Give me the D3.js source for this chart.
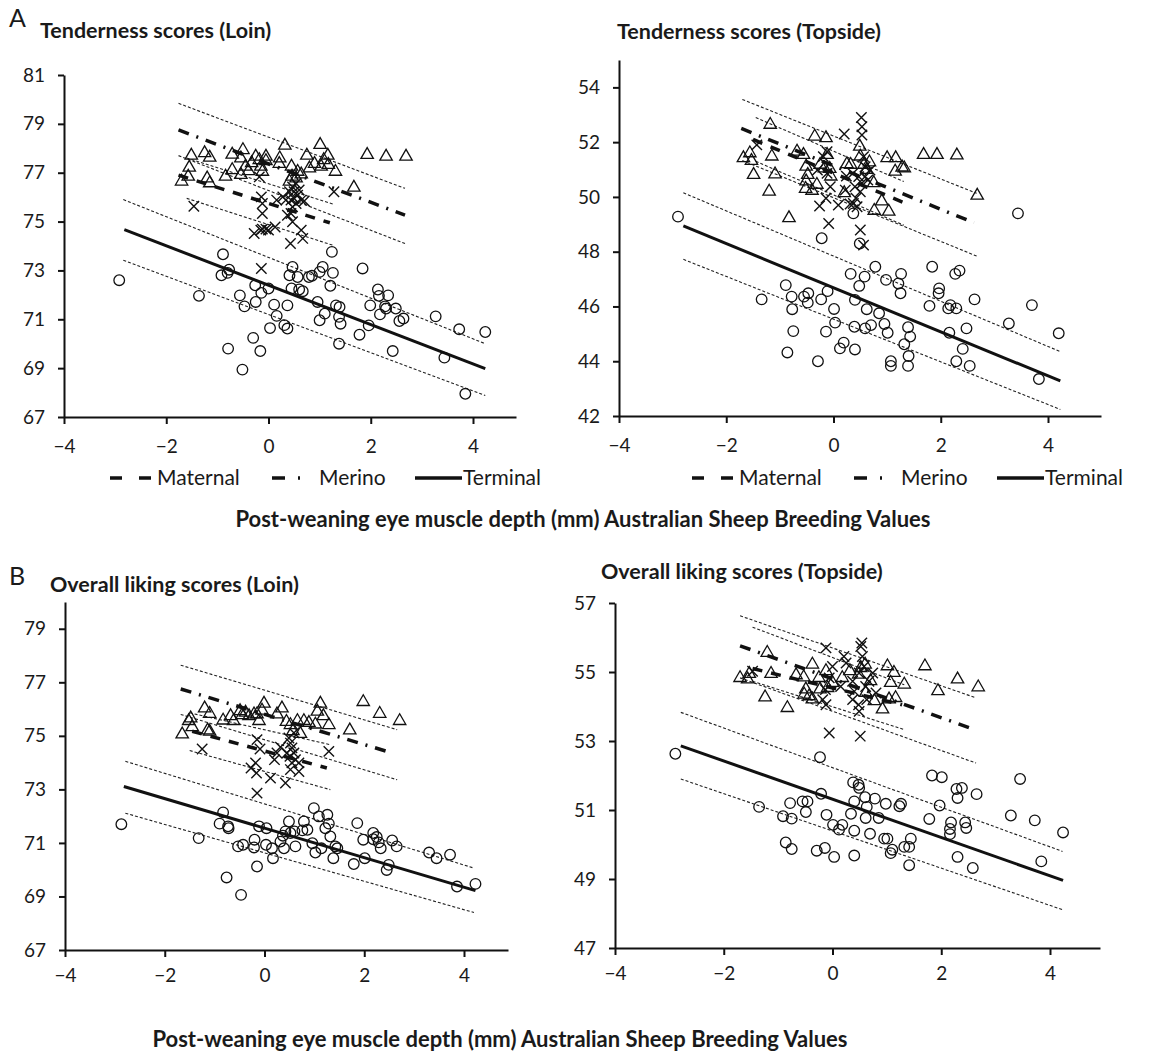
<!DOCTYPE html>
<html>
<head>
<meta charset="utf-8">
<script src="https://cdn.jsdelivr.net/npm/d3@7"></script>
<style>
body { margin: 0; background: #fff; }
text { font-family: Lato, "Open Sans", sans-serif; fill: #1a1a1a; }
</style>
</head>
<body>
<svg id="chart" width="1162" height="1057"></svg>
<script>
// ---- data: [breeding value, score] ----
var seriesNames = ["Maternal", "Merino", "Terminal"];
var xTicks = [-4, -2, 0, 2, 4];

// A: tenderness, loin
var tendLoinTerminal = [[-2.92,72.6],[-1.36,71.96],[-0.89,73.66],[-0.92,72.8],[-0.77,73.03],[-0.8,72.9],[-0.79,69.8],[-0.56,71.98],[-0.47,71.53],[-0.51,68.94],[-0.3,70.24],[-0.26,72.39],[-0.25,71.71],[-0.16,69.7],[-0.14,72.08],[0,72.26],[0.03,70.64],[0.11,71.6],[0.16,71.14],[0.31,70.76],[0.37,70.62],[0.37,71.57],[0.41,72.8],[0.47,73.14],[0.45,72.26],[0.57,72.73],[0.6,72.22],[0.67,72.15],[0.79,72.73],[0.85,72.78],[0.96,71.71],[1.0,72.94],[1.06,73.14],[1.0,70.96],[1.1,71.23],[1.21,72.37],[1.26,72.9],[1.24,73.76],[1.32,71.57],[1.38,71.1],[1.39,71.5],[1.41,70.82],[1.38,70.0],[1.78,70.37],[1.84,73.08],[1.96,70.75],[1.99,71.57],[2.14,72.22],[2.16,71.96],[2.18,71.2],[2.28,71.53],[2.34,71.98],[2.3,71.44],[2.43,69.7],[2.49,71.44],[2.56,70.93],[2.64,71.03],[3.27,71.12],[3.44,69.43],[3.73,70.59],[3.85,67.95],[4.24,70.48]];
var tendLoinMerino = [[-1.7,76.7],[-1.57,76.9],[-1.55,77.27],[-1.51,77.76],[-1.25,77.86],[-1.2,76.83],[-1.15,77.68],[-1.15,76.63],[-0.84,76.9],[-0.71,77.8],[-0.71,77.17],[-0.54,76.97],[-0.54,77.65],[-0.5,77.99],[-0.45,77.31],[-0.39,77.13],[-0.33,77.45],[-0.25,77.72],[-0.18,77.58],[-0.15,77.31],[-0.12,77.1],[-0.05,77.72],[-0.05,77.54],[0.21,77.42],[0.22,77.65],[0.32,78.17],[0.41,76.7],[0.45,77.31],[0.46,76.9],[0.54,76.83],[0.57,77.1],[0.64,76.99],[0.75,77.76],[0.8,77.24],[0.9,77.42],[1.01,78.2],[1.03,77.31],[1.08,77.58],[1.16,77.76],[1.17,77.38],[1.31,77.1],[1.67,76.45],[1.93,77.79],[2.3,77.72],[2.69,77.72]];
var tendLoinMaternal = [[-1.46,75.63],[-0.28,74.51],[-0.15,74.65],[-0.12,74.69],[-0.05,74.69],[0,74.65],[0.13,74.78],[-0.12,75.33],[-0.12,75.74],[-0.14,76.01],[-0.14,73.08],[-0.18,76.83],[0.16,75.88],[0.28,76.01],[0.34,75.88],[0.41,76.22],[0.44,75.88],[0.47,76.42],[0.47,75.6],[0.5,76.22],[0.5,75.95],[0.54,75.74],[0.57,76.08],[0.6,76.29],[0.54,76.56],[0.64,75.88],[0.47,74.99],[0.44,75.33],[0.43,74.1],[0.64,74.65],[0.67,74.31],[0.7,75.84],[1.28,76.22],[0.37,75.26]];
// fitted line and its confidence limits, at the two ends
var tendLoinFits = [
    {series: "Terminal", x: [-2.82, 4.24], fit: [74.67, 68.98], ciX: [-2.84, 4.24], lo: [73.42, 67.88], hi: [75.9, 70.0]},
    {series: "Merino", x: [-1.76, 2.67], fit: [78.75, 75.26], ciX: [-1.76, 2.67], lo: [77.7, 74.1], hi: [79.84, 76.36]},
    {series: "Maternal", x: [-1.76, 1.2], fit: [76.9, 74.95], ciX: [-1.6, 1.26], lo: [75.95, 74.03], hi: [77.6, 75.72]}
];

// A: tenderness, topside
var tendTopTerminal = [[-2.9,49.28],[-1.34,46.26],[-0.89,46.78],[-0.78,46.36],[-0.77,45.9],[-0.75,45.1],[-0.86,44.32],[-0.55,46.36],[-0.47,46.48],[-0.48,46.14],[-0.29,44.0],[-0.22,48.49],[-0.23,46.26],[-0.11,46.56],[-0.14,45.08],[0.01,45.91],[0.03,45.41],[0.19,44.68],[0.12,44.47],[0.32,47.19],[0.39,45.26],[0.4,46.24],[0.4,44.43],[0.48,46.75],[0.49,48.3],[0.58,47.09],[0.59,45.2],[0.62,45.9],[0.7,45.32],[0.78,47.45],[0.85,45.75],[0.95,45.36],[0.98,46.97],[1.01,45.04],[1.07,44.0],[1.07,43.83],[1.21,46.84],[1.26,47.19],[1.25,46.48],[1.32,44.62],[1.39,45.24],[1.4,44.19],[1.39,43.83],[1.43,44.9],[1.79,46.02],[1.84,47.45],[1.97,46.66],[1.96,46.48],[2.14,45.93],[2.16,45.04],[2.18,46.05],[2.29,45.93],[2.27,47.19],[2.35,47.31],[2.29,44.0],[2.41,44.45],[2.48,45.2],[2.54,43.83],[2.63,46.26],[3.27,45.38],[3.44,49.4],[3.7,46.05],[3.83,43.35],[4.2,45.02],[0.37,49.4]];
var tendTopMerino = [[-1.68,51.47],[-1.56,51.65],[-1.53,51.37],[-1.49,50.86],[-1.18,52.69],[-1.15,51.53],[-1.09,50.88],[-1.2,50.25],[-0.83,49.28],[-0.68,51.71],[-0.56,51.59],[-0.51,51.16],[-0.48,50.86],[-0.51,50.62],[-0.52,50.35],[-0.4,50.28],[-0.35,52.26],[-0.31,50.5],[-0.25,51.23],[-0.17,51.1],[-0.14,52.2],[-0.12,51.59],[-0.07,51.08],[-0.05,50.8],[0.2,50.19],[0.25,51.25],[0.32,51.23],[0.49,51.89],[0.5,51.53],[0.57,51.23],[0.62,51.04],[0.67,51.32],[0.75,50.56],[0.76,49.55],[0.9,49.89],[1.0,51.47],[1.03,49.52],[1.16,51.47],[1.15,50.98],[1.28,51.13],[1.32,51.1],[1.68,51.59],[1.93,51.59],[2.3,51.57],[2.68,50.1]];
var tendTopMaternal = [[-1.43,51.9],[-0.26,49.67],[-0.12,50.86],[-0.12,51.65],[-0.09,49.03],[-0.14,49.95],[0.2,52.3],[0.24,50.76],[0.22,50.25],[0.09,49.7],[0.31,49.74],[0.37,49.76],[0.42,49.95],[0.44,49.64],[0.52,52.9],[0.53,52.56],[0.53,52.26],[0.5,48.79],[0.56,48.24],[0.56,51.47],[0.59,51.1],[0.59,50.74],[0.64,50.62],[0.53,50.5],[0.5,50.19],[0.4,50.37],[0.36,50.86],[0.47,50.74],[0.68,50.98],[-0.06,50.37],[-0.3,50.98],[-0.19,51.47]];
var tendTopFits = [
    {series: "Terminal", x: [-2.8, 4.23], fit: [48.94, 43.28], ciX: [-2.8, 4.23], lo: [47.72, 42.24], hi: [50.15, 44.35]},
    {series: "Merino", x: [-1.72, 2.62], fit: [52.5, 49.06], ciX: [-1.7, 2.67], lo: [51.33, 47.84], hi: [53.56, 50.13]},
    {series: "Maternal", x: [-1.5, 1.3], fit: [52.1, 49.8], ciX: [-1.45, 1.31], lo: [51.3, 48.97], hi: [52.9, 50.56]}
];

// B: overall liking, loin
var likeLoinTerminal = [[-2.87,71.7],[-1.32,71.18],[-0.83,72.14],[-0.9,71.72],[-0.73,71.62],[-0.72,71.55],[-0.76,69.71],[-0.53,70.87],[-0.47,69.06],[-0.43,70.93],[-0.2,71.12],[-0.21,70.83],[-0.15,70.12],[-0.11,71.62],[0.04,71.55],[0.03,70.93],[0.15,70.8],[0.17,70.43],[0.32,71.05],[0.37,71.27],[0.39,70.8],[0.42,71.43],[0.49,71.8],[0.52,71.37],[0.6,71.43],[0.62,70.87],[0.76,71.47],[0.79,71.8],[0.86,71.49],[0.96,70.99],[0.99,72.3],[1.02,70.64],[1.09,71.99],[1.14,70.8],[1.22,71.55],[1.26,72.05],[1.29,71.72],[1.32,71.24],[1.38,70.43],[1.42,70.87],[1.46,70.8],[1.79,70.21],[1.86,71.74],[1.98,71.12],[2.01,70.43],[2.18,71.37],[2.18,71.14],[2.25,71.22],[2.29,71.02],[2.33,70.8],[2.45,69.99],[2.49,70.18],[2.56,71.09],[2.65,70.87],[3.3,70.64],[3.45,70.43],[3.72,70.56],[3.86,69.37],[4.23,69.47]];
var likeLoinMerino = [[-1.65,75.11],[-1.52,75.61],[-1.48,75.71],[-1.45,75.38],[-1.2,76.08],[-1.14,75.26],[-1.1,75.21],[-1.1,75.88],[-0.83,75.63],[-0.68,75.79],[-0.62,75.61],[-0.49,75.98],[-0.45,75.83],[-0.38,75.92],[-0.31,75.79],[-0.21,75.86],[-0.15,75.86],[-0.11,75.61],[-0.05,76.0],[-0.01,76.26],[0.25,75.86],[0.35,76.08],[0.44,75.58],[0.52,75.46],[0.57,75.23],[0.66,75.61],[0.72,75.13],[0.79,75.61],[0.89,75.54],[1.02,75.48],[1.06,75.96],[1.12,76.26],[1.18,75.79],[1.29,75.46],[1.71,75.26],[1.98,76.32],[2.31,75.88],[2.71,75.61]];
var likeLoinMaternal = [[-1.25,74.51],[-0.15,74.86],[-0.09,74.51],[-0.18,73.99],[-0.27,73.8],[-0.16,73.61],[-0.15,72.86],[0.12,73.42],[0.25,74.36],[0.32,74.58],[0.2,74.11],[0.42,73.24],[0.45,74.36],[0.49,74.92],[0.52,74.73],[0.55,74.55],[0.59,75.11],[0.59,74.36],[0.62,74.11],[0.55,73.99],[0.52,73.74],[0.69,73.67],[0.69,73.99],[1.29,74.42],[0.51,74.24]];
var likeLoinFits = [
    {series: "Terminal", x: [-2.82, 4.23], fit: [73.11, 69.22], ciX: [-2.79, 4.2], lo: [72.11, 68.4], hi: [74.05, 70.06]},
    {series: "Merino", x: [-1.68, 2.56], fit: [76.75, 74.36], ciX: [-1.68, 2.66], lo: [75.8, 73.36], hi: [77.64, 75.23]},
    {series: "Maternal", x: [-1.45, 1.25], fit: [75.17, 73.8], ciX: [-1.5, 1.32], lo: [74.45, 72.99], hi: [75.86, 74.67]}
];

// B: overall liking, topside
var likeTopTerminal = [[-2.89,52.63],[-1.35,51.09],[-0.91,50.82],[-0.78,51.2],[-0.75,50.75],[-0.86,50.06],[-0.75,49.87],[-0.55,51.25],[-0.46,51.25],[-0.49,50.94],[-0.29,49.82],[-0.23,52.53],[-0.21,51.47],[-0.14,49.9],[-0.11,50.86],[0.01,50.57],[0.03,49.64],[0.12,50.43],[0.18,50.57],[0.34,50.89],[0.38,51.8],[0.4,51.25],[0.4,50.4],[0.4,49.68],[0.48,51.73],[0.49,51.64],[0.6,51.37],[0.61,50.77],[0.63,51.09],[0.69,50.31],[0.78,51.33],[0.85,50.77],[0.95,50.17],[1.01,50.17],[0.98,51.18],[1.07,49.75],[1.1,49.85],[1.23,51.11],[1.26,51.18],[1.32,49.93],[1.41,49.93],[1.41,49.4],[1.44,50.17],[1.78,50.74],[1.83,52.0],[1.97,51.13],[2.01,51.95],[2.16,50.45],[2.18,50.64],[2.16,50.3],[2.28,51.61],[2.3,51.35],[2.38,51.64],[2.3,49.64],[2.44,50.64],[2.46,50.48],[2.58,49.32],[2.65,51.46],[3.28,50.84],[3.45,51.9],[3.72,50.7],[3.84,49.51],[4.24,50.35]];
var likeTopMerino = [[-1.7,54.87],[-1.56,54.83],[-1.53,54.99],[-1.2,55.6],[-1.24,54.31],[-1.13,54.99],[-0.83,54.0],[-0.67,54.95],[-0.53,54.89],[-0.49,54.54],[-0.52,54.39],[-0.43,54.34],[-0.37,55.26],[-0.37,54.25],[-0.25,54.87],[-0.23,54.54],[-0.12,55.07],[-0.09,54.58],[0,54.73],[0.18,54.87],[0.32,55.07],[0.48,54.97],[0.52,55.16],[0.6,55.26],[0.61,54.44],[0.7,54.78],[0.77,54.2],[0.92,53.96],[1.01,55.21],[1.07,54.73],[1.13,55.02],[1.04,54.25],[1.16,54.29],[1.32,54.68],[1.7,55.21],[1.94,54.49],[2.3,54.83],[2.68,54.6]];
var likeTopMaternal = [[-1.47,55.02],[-0.12,55.7],[0,55.16],[-0.06,54.83],[-0.13,54.49],[-0.18,54.2],[-0.12,54.05],[-0.06,53.23],[0.25,55.26],[0.21,55.45],[0.37,54.73],[0.4,54.44],[0.52,55.74],[0.54,55.84],[0.55,55.45],[0.58,55.16],[0.49,54.97],[0.61,54.58],[0.63,54.2],[0.48,54.05],[0.49,53.86],[0.51,53.14],[0.67,54.73],[0.74,54.97],[0.37,54.2],[0.15,54.58],[0.8,54.39]];
var likeTopFits = [
    {series: "Terminal", x: [-2.79, 4.24], fit: [52.86, 48.96], ciX: [-2.79, 4.23], lo: [51.9, 48.11], hi: [53.83, 49.8]},
    {series: "Merino", x: [-1.7, 2.58], fit: [55.76, 53.35], ciX: [-1.7, 2.64], lo: [54.83, 52.36], hi: [56.63, 54.25]},
    {series: "Maternal", x: [-1.47, 1.28], fit: [55.1, 54.05], ciX: [-1.47, 1.32], lo: [54.73, 53.33], hi: [56.3, 54.63]}
];

// ---- layout ----
var panels = [
    {title: "Tenderness scores (Loin)", letter: "A", titleX: 40, titleY: 38, letterY: 27, xPad: 16,
     left: 64, x4: 473, right: 516, top: 75, bottom: 417, yDomain: [67, 81], yTicks: d3.range(67, 82, 2),
     points: [tendLoinMaternal, tendLoinMerino, tendLoinTerminal], fits: tendLoinFits, legendX: 110, legendY: 478},
    {title: "Tenderness scores (Topside)", titleX: 617, titleY: 39, xPad: 16,
     left: 619, x4: 1048, right: 1101, top: 60, bottom: 416, yDomain: [42, 55], yTicks: d3.range(42, 55, 2),
     points: [tendTopMaternal, tendTopMerino, tendTopTerminal], fits: tendTopFits, legendX: 692, legendY: 478},
    {title: "Overall liking scores (Loin)", letter: "B", titleX: 50, titleY: 592, letterY: 585, xPad: 12,
     left: 65, x4: 464, right: 508, top: 602, bottom: 950, yDomain: [67, 80], yTicks: d3.range(67, 80, 2),
     points: [likeLoinMaternal, likeLoinMerino, likeLoinTerminal], fits: likeLoinFits},
    {title: "Overall liking scores (Topside)", titleX: 601, titleY: 579, xPad: 12,
     left: 615, x4: 1050, right: 1100, top: 603, bottom: 948, yDomain: [47, 57], yTicks: d3.range(47, 58, 2),
     points: [likeTopMaternal, likeTopMerino, likeTopTerminal], fits: likeTopFits}
];

var fitStyle = {
    Maternal: {width: 3.5, dash: "10,9"},
    Merino: {width: 3.5, dash: "11,8,2,8"},
    Terminal: {width: 3, dash: null}
};

var svg = d3.select("#chart");

function drawMarker(g, kind, px, py) {
    if (kind === "Terminal") {
        g.append("circle").attr("cx", px).attr("cy", py).attr("r", 5.3)
            .attr("fill", "none").attr("stroke", "#111").attr("stroke-width", 1.3);
    }
    else if (kind === "Merino") {
        g.append("path")
            .attr("d", "M" + (px - 6.2) + "," + (py + 5) + "L" + px + "," + (py - 5.8) + "L" + (px + 6.2) + "," + (py + 5) + "Z")
            .attr("fill", "none").attr("stroke", "#111").attr("stroke-width", 1.3);
    }
    else {
        g.append("path")
            .attr("d", "M" + (px - 5.2) + "," + (py - 5.2) + "L" + (px + 5.2) + "," + (py + 5.2) +
                       "M" + (px - 5.2) + "," + (py + 5.2) + "L" + (px + 5.2) + "," + (py - 5.2))
            .attr("fill", "none").attr("stroke", "#111").attr("stroke-width", 1.4);
    }
}

panels.forEach(function(p) {
    // x scale pinned so that -4 and 4 fall on the measured tick positions
    var xMax = -4 + 8 * (p.right - p.left) / (p.x4 - p.left);
    var x = d3.scaleLinear().domain([-4, xMax]).range([p.left, p.right]);
    var y = d3.scaleLinear().domain(p.yDomain).range([p.bottom, p.top]);
    var g = svg.append("g");

    var yAxis = g.append("g").attr("transform", "translate(" + p.left + ",0)")
        .call(d3.axisLeft(y).tickValues(p.yTicks).tickSize(6).tickSizeOuter(0).tickPadding(13));
    var xAxis = g.append("g").attr("transform", "translate(0," + p.bottom + ")")
        .call(d3.axisBottom(x).tickValues(xTicks).tickSize(7).tickSizeOuter(0).tickPadding(p.xPad));
    [yAxis, xAxis].forEach(function(a) {
        a.select(".domain").attr("stroke", "#111").attr("stroke-width", 2);
        a.selectAll(".tick line").attr("stroke", "#111").attr("stroke-width", 2);
        a.selectAll(".tick text").attr("font-size", 19).attr("fill", "#1a1a1a")
            .attr("font-family", "Lato, 'Open Sans', sans-serif");
    });

    // confidence limits
    p.fits.forEach(function(f) {
        [f.lo, f.hi].forEach(function(band) {
            g.append("line")
                .attr("x1", x(f.ciX[0])).attr("y1", y(band[0]))
                .attr("x2", x(f.ciX[1])).attr("y2", y(band[1]))
                .attr("stroke", "#222").attr("stroke-width", 1.1).attr("stroke-dasharray", "3,2");
        });
    });

    // markers
    p.points.forEach(function(pts, i) {
        var kind = seriesNames[i];
        pts.forEach(function(d) {
            drawMarker(g, kind, x(d[0]), y(d[1]));
        });
    });

    // fitted lines
    p.fits.forEach(function(f) {
        var st = fitStyle[f.series];
        g.append("line")
            .attr("x1", x(f.x[0])).attr("y1", y(f.fit[0]))
            .attr("x2", x(f.x[1])).attr("y2", y(f.fit[1]))
            .attr("stroke", "#111").attr("stroke-width", st.width)
            .attr("stroke-dasharray", st.dash);
    });

    // titles
    g.append("text").attr("x", p.titleX).attr("y", p.titleY)
        .attr("font-size", 21.5).attr("font-weight", "bold")
        .text(p.title);
    if (p.letter) {
        g.append("text").attr("x", 9).attr("y", p.letterY)
            .attr("font-size", 25).attr("font-family", "'Liberation Sans', Arial, sans-serif")
            .text(p.letter);
    }

    // legend
    if (p.legendX) {
        var lg = g.append("g").attr("transform", "translate(" + p.legendX + "," + p.legendY + ")");
        var items = [
            {name: "Maternal", x0: 0, x1: 42, dash: "12,17", tx: 47},
            {name: "Merino", x0: 162, x1: 192, dash: "13,13,2,20", tx: 209},
            {name: "Terminal", x0: 305, x1: 352, dash: null, tx: 353}
        ];
        items.forEach(function(it) {
            lg.append("line").attr("x1", it.x0).attr("x2", it.x1).attr("y1", 0).attr("y2", 0)
                .attr("stroke", "#111").attr("stroke-width", 3.5).attr("stroke-dasharray", it.dash);
            lg.append("text").attr("x", it.tx).attr("y", 7).attr("font-size", 21).text(it.name);
        });
    }
});

// shared axis titles
var axisTitle = "Post-weaning eye muscle depth (mm) Australian Sheep Breeding Values";
svg.append("text").attr("x", 583).attr("y", 527).attr("text-anchor", "middle")
    .attr("font-size", 22).attr("font-weight", "bold").text(axisTitle);
svg.append("text").attr("x", 500).attr("y", 1047).attr("text-anchor", "middle")
    .attr("font-size", 22).attr("font-weight", "bold").text(axisTitle);
</script>
</body>
</html>
